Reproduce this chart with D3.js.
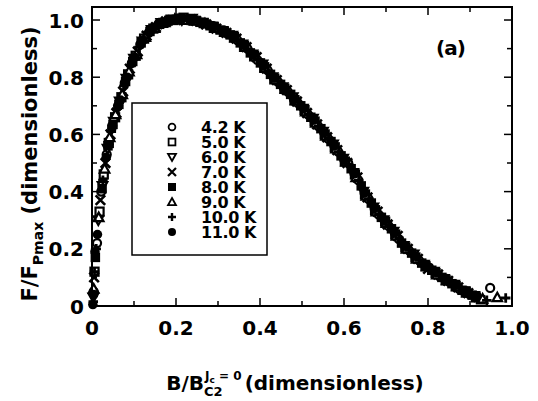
<!DOCTYPE html>
<html><head><meta charset="utf-8">
<script src="https://cdn.jsdelivr.net/npm/d3@7"></script>
<style>
html,body{margin:0;padding:0;background:#fff;}
svg{display:block;}
text{font-family:"DejaVu Sans",sans-serif;font-weight:bold;fill:#000;}
</style></head>
<body>
<svg id="c" width="538" height="401"></svg>
<script>
// ---- data (B/Bc2, F/Fpmax) ----
const t42 = [[0.004,0.05],[0.012,0.22],[0.022,0.40],[0.035,0.53],[0.048,0.63],[0.062,0.70],[0.078,0.78],[0.095,0.85],[0.115,0.915],[0.135,0.955],[0.158,0.985],[0.182,1.0],[0.205,1.005],[0.228,1.0],[0.252,0.995],[0.275,0.985],[0.298,0.97],[0.322,0.952],[0.346,0.93],[0.37,0.9],[0.394,0.86],[0.418,0.825],[0.442,0.785],[0.466,0.75],[0.49,0.71],[0.514,0.67],[0.538,0.63],[0.562,0.585],[0.586,0.54],[0.61,0.5],[0.634,0.44],[0.658,0.375],[0.682,0.32],[0.706,0.28],[0.73,0.235],[0.754,0.195],[0.778,0.16],[0.802,0.135],[0.826,0.105],[0.85,0.085],[0.874,0.06],[0.898,0.042],[0.948,0.063]];
const t50 = [[0.006,0.12],[0.018,0.33],[0.028,0.46],[0.04,0.57],[0.055,0.66],[0.07,0.73],[0.086,0.81],[0.104,0.875],[0.124,0.935],[0.146,0.97],[0.17,0.99],[0.194,1.0],[0.218,1.008],[0.242,0.998],[0.266,0.99],[0.29,0.975],[0.314,0.96],[0.338,0.94],[0.362,0.91],[0.386,0.875],[0.41,0.835],[0.434,0.795],[0.458,0.76],[0.482,0.72],[0.506,0.685],[0.53,0.645],[0.554,0.6],[0.578,0.555],[0.602,0.505],[0.626,0.46],[0.65,0.39],[0.674,0.335],[0.698,0.295],[0.722,0.25],[0.746,0.205],[0.77,0.17],[0.794,0.14],[0.818,0.115],[0.842,0.09],[0.866,0.07],[0.89,0.05],[0.914,0.03]];
const t60 = [[0.003,0.03],[0.015,0.3],[0.025,0.42],[0.037,0.55],[0.052,0.645],[0.066,0.715],[0.082,0.795],[0.1,0.865],[0.12,0.925],[0.142,0.965],[0.165,0.99],[0.19,1.002],[0.214,1.0],[0.238,1.005],[0.262,0.99],[0.286,0.978],[0.31,0.962],[0.334,0.945],[0.358,0.915],[0.382,0.88],[0.406,0.845],[0.43,0.8],[0.454,0.765],[0.478,0.73],[0.502,0.69],[0.526,0.655],[0.55,0.61],[0.574,0.565],[0.598,0.515],[0.622,0.465],[0.646,0.4],[0.67,0.345],[0.694,0.3],[0.718,0.26],[0.742,0.21],[0.766,0.18],[0.79,0.145],[0.814,0.12],[0.838,0.095],[0.862,0.075],[0.886,0.052],[0.91,0.035]];
const t70 = [[0.005,0.1],[0.02,0.37],[0.032,0.5],[0.044,0.6],[0.058,0.675],[0.074,0.75],[0.09,0.83],[0.109,0.89],[0.13,0.945],[0.152,0.975],[0.176,0.995],[0.2,1.0],[0.224,1.002],[0.248,0.997],[0.272,0.985],[0.296,0.97],[0.32,0.955],[0.344,0.935],[0.368,0.905],[0.392,0.87],[0.416,0.83],[0.44,0.79],[0.464,0.755],[0.488,0.715],[0.512,0.675],[0.536,0.635],[0.56,0.59],[0.584,0.545],[0.608,0.5],[0.632,0.45],[0.656,0.38],[0.68,0.33],[0.704,0.285],[0.728,0.245],[0.752,0.2],[0.776,0.165],[0.8,0.13],[0.824,0.11],[0.848,0.088],[0.872,0.065],[0.896,0.045]];
const t80 = [[0.008,0.17],[0.024,0.41],[0.038,0.56],[0.05,0.635],[0.064,0.705],[0.08,0.785],[0.097,0.855],[0.117,0.92],[0.138,0.96],[0.161,0.985],[0.185,1.0],[0.209,1.005],[0.233,1.0],[0.257,0.992],[0.281,0.98],[0.305,0.965],[0.329,0.948],[0.353,0.92],[0.377,0.885],[0.401,0.85],[0.425,0.81],[0.449,0.775],[0.473,0.74],[0.497,0.7],[0.521,0.66],[0.545,0.62],[0.569,0.575],[0.593,0.525],[0.617,0.48],[0.641,0.42],[0.665,0.36],[0.689,0.31],[0.713,0.27],[0.737,0.22],[0.761,0.185],[0.785,0.15],[0.809,0.125],[0.833,0.1],[0.857,0.078],[0.881,0.055],[0.905,0.038],[0.925,0.022]];
const t90 = [[0.004,0.06],[0.016,0.31],[0.03,0.48],[0.042,0.59],[0.056,0.67],[0.072,0.74],[0.088,0.82],[0.106,0.88],[0.127,0.94],[0.149,0.972],[0.173,0.992],[0.197,1.003],[0.221,1.0],[0.245,0.998],[0.269,0.988],[0.293,0.972],[0.317,0.958],[0.341,0.938],[0.365,0.905],[0.389,0.872],[0.413,0.832],[0.437,0.792],[0.461,0.758],[0.485,0.718],[0.509,0.68],[0.533,0.64],[0.557,0.595],[0.581,0.55],[0.605,0.505],[0.629,0.45],[0.653,0.385],[0.677,0.33],[0.701,0.29],[0.725,0.245],[0.749,0.2],[0.773,0.165],[0.797,0.138],[0.821,0.11],[0.845,0.09],[0.869,0.068],[0.893,0.046],[0.93,0.025],[0.965,0.03]];
const t100 = [[0.003,0.015],[0.006,0.12],[0.01,0.2],[0.026,0.44],[0.046,0.61],[0.06,0.69],[0.076,0.77],[0.093,0.84],[0.112,0.905],[0.133,0.95],[0.155,0.98],[0.179,0.997],[0.203,1.005],[0.227,1.002],[0.251,0.995],[0.275,0.982],[0.299,0.968],[0.323,0.952],[0.347,0.928],[0.371,0.898],[0.395,0.862],[0.419,0.822],[0.443,0.786],[0.467,0.75],[0.491,0.712],[0.515,0.672],[0.539,0.63],[0.563,0.588],[0.587,0.54],[0.611,0.495],[0.635,0.44],[0.659,0.375],[0.683,0.322],[0.707,0.282],[0.731,0.238],[0.755,0.195],[0.779,0.16],[0.803,0.13],[0.827,0.105],[0.851,0.085],[0.875,0.062],[0.899,0.04],[0.94,0.02],[0.985,0.028]];
const t110 = [[0.002,0.005],[0.004,0.04],[0.007,0.19],[0.013,0.25],[0.034,0.52],[0.047,0.62],[0.068,0.72],[0.084,0.8],[0.102,0.87],[0.122,0.93],[0.144,0.968],[0.167,0.988],[0.192,1.0],[0.216,1.005],[0.24,1.0],[0.264,0.99],[0.288,0.975],[0.312,0.96],[0.336,0.94],[0.36,0.912],[0.384,0.878],[0.408,0.84],[0.432,0.798],[0.456,0.762],[0.48,0.722],[0.504,0.69],[0.528,0.65],[0.552,0.605],[0.576,0.56],[0.6,0.51],[0.624,0.462],[0.648,0.395],[0.672,0.34],[0.696,0.298],[0.72,0.255],[0.744,0.21],[0.768,0.175],[0.792,0.142],[0.816,0.118],[0.84,0.092],[0.864,0.072],[0.888,0.05],[0.912,0.032]];

const seriesLabels = ["4.2 K","5.0 K","6.0 K","7.0 K","8.0 K","9.0 K","10.0 K","11.0 K"];
const seriesData = [t42,t50,t60,t70,t80,t90,t100,t110];
const seriesSymbols = ["circle","square","triangleDown","cross","squareFilled","triangle","plus","circleFilled"];
const xTicks = [0,0.2,0.4,0.6,0.8,1.0];
const xTickLabels = ["0","0.2","0.4","0.6","0.8","1.0"];
const yTicks = [0,0.2,0.4,0.6,0.8,1.0];
const yTickLabels = ["0","0.2","0.4","0.6","0.8","1.0"];
const minorTicks = [0.1,0.3,0.5,0.7,0.9];

// ---- layout ----
const svg = d3.select("#c");
const L = 92, R = 512, T = 7, B = 306;
const x = d3.scaleLinear().domain([0,1]).range([L,R]);
const y = d3.scaleLinear().domain([0,1.0455]).range([B,T]);

function sym(g, type, s, sw){
  const r = s/2;
  switch(type){
    case "circle": g.append("circle").attr("r",r*0.85).attr("fill","#fff").attr("stroke","#000").attr("stroke-width",sw); break;
    case "circleFilled": g.append("circle").attr("r",r).attr("fill","#000"); break;
    case "square": g.append("rect").attr("x",-r*0.85).attr("y",-r*0.85).attr("width",r*1.7).attr("height",r*1.7).attr("fill","#fff").attr("stroke","#000").attr("stroke-width",sw); break;
    case "squareFilled": g.append("rect").attr("x",-r).attr("y",-r).attr("width",2*r).attr("height",2*r).attr("fill","#000"); break;
    case "triangle": g.append("path").attr("d",`M0,${-r}L${r},${r*0.8}L${-r},${r*0.8}Z`).attr("fill","#fff").attr("stroke","#000").attr("stroke-width",sw); break;
    case "triangleDown": g.append("path").attr("d",`M0,${r}L${r},${-r*0.8}L${-r},${-r*0.8}Z`).attr("fill","#fff").attr("stroke","#000").attr("stroke-width",sw); break;
    case "cross": g.append("path").attr("d",`M${-r},${-r}L${r},${r}M${-r},${r}L${r},${-r}`).attr("stroke","#000").attr("stroke-width",sw+0.4); break;
    case "plus": g.append("path").attr("d",`M${-r},0L${r},0M0,${-r}L0,${r}`).attr("stroke","#000").attr("stroke-width",sw+0.6); break;
  }
}

// data points
const pts = svg.append("g");
seriesData.forEach((d,i)=>{
  pts.selectAll(null).data(d).enter().append("g")
    .attr("transform",p=>`translate(${x(p[0])},${y(p[1])})`)
    .each(function(){ sym(d3.select(this), seriesSymbols[i], 9.5, 2.2); });
});

// frame
svg.append("rect").attr("x",L).attr("y",T).attr("width",R-L).attr("height",B-T)
  .attr("fill","none").attr("stroke","#000").attr("stroke-width",2);

// ticks (inward on all four sides)
const tk = svg.append("g").attr("stroke","#000").attr("stroke-width",1.5);
xTicks.forEach(v=>{ tk.append("line").attr("x1",x(v)).attr("x2",x(v)).attr("y1",B).attr("y2",B-8);
  tk.append("line").attr("x1",x(v)).attr("x2",x(v)).attr("y1",T).attr("y2",T+8); });
minorTicks.forEach(v=>{ tk.append("line").attr("x1",x(v)).attr("x2",x(v)).attr("y1",B).attr("y2",B-5);
  tk.append("line").attr("x1",x(v)).attr("x2",x(v)).attr("y1",T).attr("y2",T+5); });
yTicks.forEach(v=>{ tk.append("line").attr("x1",L).attr("x2",L+8).attr("y1",y(v)).attr("y2",y(v));
  tk.append("line").attr("x1",R).attr("x2",R-8).attr("y1",y(v)).attr("y2",y(v)); });
minorTicks.forEach(v=>{ tk.append("line").attr("x1",L).attr("x2",L+5).attr("y1",y(v)).attr("y2",y(v));
  tk.append("line").attr("x1",R).attr("x2",R-5).attr("y1",y(v)).attr("y2",y(v)); });

// tick labels
svg.append("g").selectAll("text").data(xTicks).enter().append("text")
  .attr("x",d=>x(d)).attr("y",335).attr("text-anchor","middle").style("font-size","20px")
  .text((d,i)=>xTickLabels[i]);
svg.append("g").selectAll("text").data(yTicks).enter().append("text")
  .attr("x",84).attr("y",d=>y(d)+7.5).attr("text-anchor","end").style("font-size","20px")
  .text((d,i)=>yTickLabels[i]);

// x axis title
const xt = svg.append("g");
const a1 = xt.append("text").attr("x",0).attr("y",0).style("font-size","20px").text("B/B");
const w1 = a1.node().getComputedTextLength();
const sup = xt.append("text").attr("x",w1+1).attr("y",-10).style("font-size","12px");
sup.append("tspan").text("J");
sup.append("tspan").attr("dy",3).style("font-size","9px").text("c");
sup.append("tspan").attr("dy",-3).text(" = 0");
const sub = xt.append("text").attr("x",w1).attr("y",6).style("font-size","13px").text("C2");
const ws = Math.max(sup.node().getComputedTextLength(), sub.node().getComputedTextLength());
const a2 = xt.append("text").attr("x",w1+ws+4).attr("y",0).style("font-size","20px").text("(dimensionless)");
const xw = w1+ws+4+a2.node().getComputedTextLength();
xt.attr("transform",`translate(${295-xw/2},390)`);

// y axis title
const yt = svg.append("g");
const yl = yt.append("text").attr("x",0).attr("y",0).style("font-size","21px");
yl.append("tspan").text("F/F");
yl.append("tspan").attr("dy",6).style("font-size","14px").text("Pmax");
yl.append("tspan").attr("dy",-6).text(" (dimensionless)");
const yw = yl.node().getComputedTextLength();
yt.attr("transform",`translate(37,${164+yw/2}) rotate(-90)`);

// panel label
svg.append("text").attr("x",436).attr("y",55).style("font-size","20px").style("letter-spacing","-1px").text("(a)");

// legend
const lg = svg.append("g");
lg.append("rect").attr("x",132).attr("y",103).attr("width",135).attr("height",152)
  .attr("fill","#fff").attr("stroke","#000").attr("stroke-width",1.5);
seriesLabels.forEach((lab,i)=>{
  const by = 133 + i*15;
  const g = lg.append("g").attr("transform",`translate(172,${by-6})`);
  sym(g, seriesSymbols[i], 8, 1.8);
  lg.append("text").attr("x",201).attr("y",by).style("font-size","16px").style("letter-spacing","-0.4px").text(lab);
});
</script>
</body></html>
